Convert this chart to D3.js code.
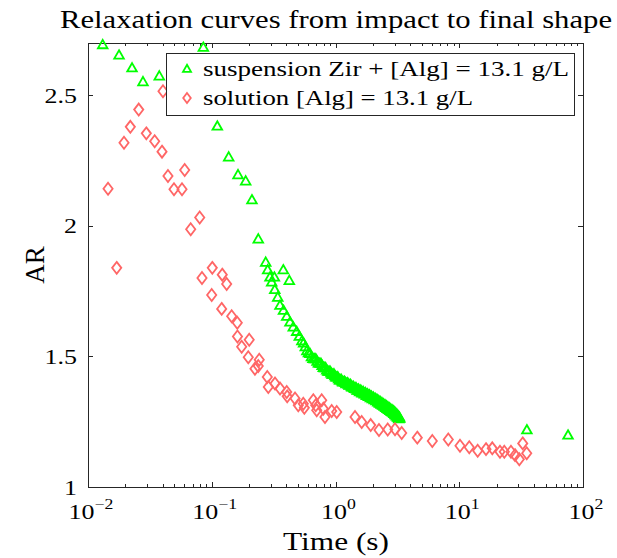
<!DOCTYPE html>
<html><head><meta charset="utf-8">
<script src="https://cdn.jsdelivr.net/npm/d3@7"></script>
<style>
body{margin:0;background:#fff;}
text{font-family:"Liberation Serif","Times New Roman",serif;fill:#000;}
</style></head><body>
<svg id="chart" width="617" height="558"></svg>
<script>
// ---- data ----
const suspTime = [0.01315,0.01782,0.02270,0.02782,0.03767,0.08550,0.1109,0.1371,0.1630,0.1880,0.2113,0.2377,0.2729,0.2831,0.2957,0.3050,0.3206,0.323,0.3414,0.3560,0.3786,0.380,0.4035,0.4235,0.4288,0.4560,0.4858,0.5101,
0.535,0.570,0.605,0.640,0.675,0.710,0.745,0.780,0.815,0.850,0.885,0.920,0.955,0.990,1.025,1.060,1.095,1.130,1.165,1.200,1.235,1.270,1.305,1.340,1.375,1.410,1.445,1.480,1.515,1.550,1.585,1.620,1.655,1.690,1.725,1.760,1.795,1.830,1.865,1.900,1.935,1.970,2.005,2.040,2.075,2.110,2.145,2.180,2.215,2.250,2.285,2.320,2.355,2.390,2.425,2.460,2.495,2.530,2.565,2.600,2.635,2.670,2.705,2.740,2.775,2.810,2.845,2.880,2.915,2.950,2.985,3.020,3.055,3.090,3.125,3.160,3.195,3.230,3.265,3.300,
0.5525,0.5875,0.6225,0.6575,0.6925,0.7275,0.7625,0.7975,0.8325,0.8675,0.9025,0.9375,0.9725,1.0075,1.0425,1.0775,1.1125,1.1475,1.1825,1.2175,1.2525,1.2875,1.3225,1.3575,1.3925,1.4275,1.4625,1.4975,
1.5325,1.5675,1.6025,1.6375,1.6725,1.7075,1.7425,1.7775,1.8125,1.8475,1.8825,1.9175,1.9525,1.9875,2.0225,2.0575,2.0925,2.1275,2.1625,2.1975,2.2325,2.2675,2.3025,2.3375,2.3725,2.4075,2.4425,2.4775,2.5125,2.5475,2.5825,2.6175,2.6525,2.6875,2.7225,2.7575,2.7925,2.8275,2.8625,2.8975,2.9325,2.9675,3.0025,3.0375,3.0725,3.1075,3.1425,3.1775,3.2125,3.2475,3.2825,
35.2,75.7];
const suspAR = [2.693,2.653,2.604,2.551,2.573,2.683,2.381,2.263,2.195,2.171,2.099,1.949,1.860,1.831,1.803,1.784,1.803,1.755,1.726,1.695,1.831,1.676,1.653,1.790,1.631,1.612,1.595,1.576,
1.559,1.536,1.513,1.498,1.490,1.481,1.473,1.464,1.456,1.447,1.442,1.436,1.431,1.425,1.420,1.414,1.409,1.405,1.402,1.399,1.396,1.393,1.390,1.386,1.383,1.380,1.377,1.374,1.371,1.369,1.367,1.364,1.362,1.360,1.358,1.355,1.353,1.351,1.349,1.346,1.344,1.342,1.340,1.338,1.336,1.334,1.332,1.330,1.327,1.325,1.323,1.321,1.319,1.317,1.315,1.313,1.311,1.309,1.307,1.305,1.303,1.301,1.299,1.297,1.295,1.293,1.292,1.290,1.288,1.286,1.284,1.282,1.279,1.277,1.274,1.272,1.269,1.267,1.264,1.262,
1.551,1.521,1.510,1.491,1.490,1.474,1.473,1.457,1.456,1.442,1.443,1.431,1.432,1.420,1.421,1.409,1.411,1.401,1.404,1.395,1.398,1.389,1.392,1.382,1.385,1.376,1.380,1.370,
1.374,1.364,1.370,1.359,1.365,1.355,1.361,1.350,1.356,1.346,1.352,1.341,1.347,1.337,1.343,1.333,1.339,1.329,1.335,1.325,1.330,1.320,1.326,1.316,1.322,1.312,1.318,1.308,1.314,1.304,1.310,1.300,1.306,1.296,1.302,1.292,1.298,1.288,1.295,1.285,1.291,1.281,1.287,1.276,1.282,1.271,1.277,1.266,1.272,1.261,1.267,
1.218,1.198];
const solTime = [0.01452,0.01706,0.01954,0.02198,0.02570,0.02960,0.03459,0.03963,0.04036,0.04428,0.04953,0.05750,0.06044,0.06760,0.07993,0.0834,0.0999,0.1010,0.1203,0.1216,0.1320,0.1449,0.1608,0.1614,0.1745,0.1973,0.2008,0.2234,0.2376,0.2420,0.2811,0.2864,0.3245,0.3561,0.4036,0.407,0.4710,0.5003,0.5492,0.5598,0.6621,0.6922,0.7050,0.7736,0.797,0.8222,0.9317,1.023,1.438,1.628,1.925,2.246,2.642,3.026,3.427,4.581,6.057,8.155,10.14,12.05,14.09,16.45,18.49,21.34,23.12,26.18,28.22,30.57,32.57,35.09];
const solAR = [2.142,1.839,2.318,2.379,2.445,2.354,2.324,2.284,2.515,2.191,2.140,2.140,2.214,1.987,2.032,1.800,1.735,1.839,1.682,1.813,1.777,1.654,1.629,1.576,1.537,1.497,1.564,1.453,1.463,1.487,1.421,1.383,1.396,1.377,1.364,1.347,1.339,1.313,1.319,1.303,1.332,1.313,1.294,1.332,1.300,1.268,1.291,1.287,1.268,1.249,1.237,1.218,1.220,1.221,1.207,1.189,1.176,1.182,1.158,1.152,1.139,1.145,1.148,1.135,1.135,1.135,1.122,1.106,1.167,1.129];
const xTickValues = [0.01,0.1,1,10,100];
const xTickExponents = ["\u22122","\u22121","0","1","2"];
const yTickValues = [1,1.5,2,2.5];
const yTickLabels = ["1","1.5","2","2.5"];
const seriesNames = ["suspension Zir + [Alg] = 13.1 g/L","solution [Alg] = 13.1 g/L"];
const titleText = "Relaxation curves from impact to final shape";
const xLabelText = "Time (s)";
const yLabelText = "AR";

// ---- layout ----
const W=617,H=558, L=88,R=583,T=43,B=487;
const SX=1.18;
const axisColor="#262626";
const green="#00ff00", red="#ff6666";
const svg=d3.select("#chart");
svg.append("rect").attr("width",W).attr("height",H).attr("fill","#fff");
const x=d3.scaleLog().domain([0.01,100]).range([L,R]);
const y=d3.scaleLinear().domain([1,2.7]).range([B,T]);
const minorTicks = x.ticks().filter(v=>!xTickValues.some(m=>Math.abs(m-v)/m<1e-9));

function styleAxis(g){
  g.selectAll("path,line").attr("stroke",axisColor).attr("stroke-width",1).attr("shape-rendering","crispEdges");
  g.selectAll("text").remove();
}
svg.append("g").attr("transform",`translate(0,${B})`).call(d3.axisBottom(x).tickValues(xTickValues).tickSize(-5).tickSizeOuter(0)).call(styleAxis);
svg.append("g").attr("transform",`translate(0,${B})`).call(d3.axisBottom(x).tickValues(minorTicks).tickSize(-3).tickSizeOuter(0)).call(styleAxis).select(".domain").remove();
svg.append("g").attr("transform",`translate(0,${T})`).call(d3.axisTop(x).tickValues(xTickValues).tickSize(-5).tickSizeOuter(0)).call(styleAxis);
svg.append("g").attr("transform",`translate(0,${T})`).call(d3.axisTop(x).tickValues(minorTicks).tickSize(-3).tickSizeOuter(0)).call(styleAxis).select(".domain").remove();
svg.append("g").attr("transform",`translate(${L},0)`).call(d3.axisLeft(y).tickValues(yTickValues).tickSize(-5).tickSizeOuter(0)).call(styleAxis);
svg.append("g").attr("transform",`translate(${R},0)`).call(d3.axisRight(y).tickValues(yTickValues).tickSize(-5).tickSizeOuter(0)).call(styleAxis);

// tick labels
const xl = svg.append("g").selectAll("g").data(xTickValues).join("g")
  .attr("transform",d=>`translate(${x(d)+3},519) scale(${SX},1)`);
const xt = xl.append("text").attr("text-anchor","middle").attr("font-size",22);
xt.append("tspan").text("10");
xt.append("tspan").attr("dy",-10).attr("font-size",15).text((d,i)=>xTickExponents[i]);
svg.append("g").selectAll("g").data(yTickValues).join("g")
  .attr("transform",d=>`translate(77,${y(d)+7.5}) scale(${SX},1)`)
  .append("text").attr("text-anchor","end").attr("font-size",22).text((d,i)=>yTickLabels[i]);

// markers
const triPath="M0,-5L4.8,3.4L-4.8,3.4Z";
const diaPath="M0,-6L4.6,0L0,6L-4.6,0Z";
svg.append("g").selectAll("path").data(suspTime.map((t,i)=>[t,suspAR[i]])).join("path")
  .attr("d",triPath).attr("transform",d=>`translate(${x(d[0])},${y(d[1])})`)
  .attr("fill","none").attr("stroke",green).attr("stroke-width",1.8);
svg.append("g").selectAll("path").data(solTime.map((t,i)=>[t,solAR[i]])).join("path")
  .attr("d",diaPath).attr("transform",d=>`translate(${x(d[0])},${y(d[1])})`)
  .attr("fill","none").attr("stroke",red).attr("stroke-width",1.8);

// legend
const lg=svg.append("g");
lg.append("rect").attr("x",166).attr("y",53).attr("width",408).attr("height",62)
  .attr("fill","#fff").attr("stroke",axisColor).attr("stroke-width",1).attr("shape-rendering","crispEdges");
lg.append("path").attr("d","M0,-4.2L4,2.8L-4,2.8Z").attr("transform","translate(187,69)").attr("fill","none").attr("stroke",green).attr("stroke-width",1.8);
lg.append("path").attr("d","M0,-5L3.8,0L0,5L-3.8,0Z").attr("transform","translate(187,98)").attr("fill","none").attr("stroke",red).attr("stroke-width",1.8);
lg.append("text").attr("x",203).attr("y",75.5).attr("font-size",21).attr("textLength",366).attr("lengthAdjust","spacingAndGlyphs").text(seriesNames[0]);
lg.append("text").attr("x",203).attr("y",105).attr("font-size",21).attr("textLength",270).attr("lengthAdjust","spacingAndGlyphs").text(seriesNames[1]);

// title & labels
svg.append("text").attr("x",60).attr("y",28).attr("font-size",25).attr("textLength",552).attr("lengthAdjust","spacingAndGlyphs").text(titleText);
svg.append("text").attr("x",283).attr("y",550).attr("font-size",25).attr("textLength",106).attr("lengthAdjust","spacingAndGlyphs").text(xLabelText);
svg.append("g").attr("transform","translate(44,265) rotate(-90)")
  .append("text").attr("text-anchor","middle").attr("font-size",27).text(yLabelText);
</script>
</body></html>
